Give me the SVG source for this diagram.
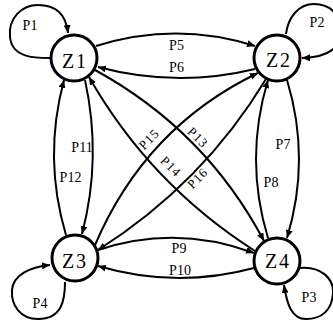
<svg xmlns="http://www.w3.org/2000/svg" width="333" height="327" viewBox="0 0 333 327">
  <style>
    .edge { fill: none; stroke: #000; stroke-width: 2; }
    .arr { marker-end: url(#head); }
    .node circle { fill: #fff; stroke: #000; stroke-width: 3; }
    .node text { font-family: "Liberation Serif", "Times New Roman", serif; font-size: 20px; letter-spacing: 2px; text-anchor: middle; fill: #000; }
    .lbl { font-family: "Liberation Serif", "Times New Roman", serif; font-size: 14px; text-anchor: middle; fill: #000; }
    .dlbl { font-family: "Liberation Serif", "Times New Roman", serif; font-size: 13px; letter-spacing: 1px; text-anchor: middle; fill: #000; }
  </style>
  <defs>
    <marker id="head" markerUnits="userSpaceOnUse" markerWidth="9" markerHeight="7" refX="8" refY="3.5" orient="auto">
      <path d="M0,0 L8,3.5 L0,7 z" fill="#000"/>
    </marker>
  </defs>
  <rect width="333" height="327" fill="#fff"/>

  <g id="connectors">
    <!-- self loops -->
    <path class="edge arr" d="M50,58 C35,58 12,58 10,37 C8,18 22,5 38,5 C55,5 66,14 68,33"/>
    <path class="edge arr" d="M286,34 C288,18 298,4 314,4 C330,4 340,14 340,30 C340,48 330,57 302,58"/>
    <path class="edge arr" d="M300,268 C320,266 334,278 333,293 C332,310 322,319 306,319 C292,319 287,305 284,285"/>
    <path class="edge arr" d="M65,282 C65,300 62,319 38,319 C20,319 11,305 12,290 C13,275 30,267 50,265"/>

    <!-- Z1 / Z2 -->
    <path class="edge arr" d="M96,46 Q176,21 255,46"/>
    <path class="edge arr" d="M255,69 Q177,88 98,67"/>
    <!-- Z3 / Z4 -->
    <path class="edge arr" d="M98,250 Q176,224 254,253"/>
    <path class="edge arr" d="M254,268 Q176,289 98,266"/>
    <!-- Z1 / Z3 -->
    <path class="edge arr" d="M85,80 Q102,158 82,234"/>
    <path class="edge arr" d="M66,235 Q43,158 64,80"/>
    <!-- Z2 / Z4 -->
    <path class="edge arr" d="M287,80 Q311,159 287,238"/>
    <path class="edge arr" d="M268,238 Q244,159 268,80"/>
    <!-- diagonals -->
    <path class="edge arr" d="M95,70 Q205.5,130.5 264,241"/>
    <path class="edge arr" d="M255,251 Q150,184 89,77"/>
    <path class="edge arr" d="M95,245 Q145.5,127 258,73"/>
    <path class="edge arr" d="M266,79 Q203,183.5 98,250"/>

    <!-- labels -->
    <text class="lbl" x="30" y="30">P1</text>
    <text class="lbl" x="317" y="27">P2</text>
    <text class="lbl" x="309" y="302">P3</text>
    <text class="lbl" x="40" y="308">P4</text>
    <text class="lbl" x="176.5" y="50">P5</text>
    <text class="lbl" x="176.5" y="72">P6</text>
    <text class="lbl" x="283" y="149">P7</text>
    <text class="lbl" x="271" y="187">P8</text>
    <text class="lbl" x="179" y="253">P9</text>
    <text class="lbl" x="180" y="275">P10</text>
    <text class="lbl" x="82" y="152">P11</text>
    <text class="lbl" x="70.5" y="182">P12</text>
    <text class="dlbl" transform="translate(198,137.5) rotate(45)" y="4.5">P13</text>
    <text class="dlbl" transform="translate(171,166.5) rotate(45)" y="4.5">P14</text>
    <text class="dlbl" transform="translate(149,139) rotate(-45)" y="4.5">P15</text>
    <text class="dlbl" transform="translate(197.5,178) rotate(-45)" y="4.5">P16</text>
  </g>

  <g id="Z1" class="node"><circle cx="74" cy="58" r="23"/><text x="75" y="68">Z1</text></g>
  <g id="Z2" class="node"><circle cx="277" cy="58" r="23"/><text x="279" y="67">Z2</text></g>
  <g id="Z3" class="node"><circle cx="75" cy="258" r="23"/><text x="75" y="268">Z3</text></g>
  <g id="Z4" class="node"><circle cx="277" cy="261" r="23"/><text x="278" y="268">Z4</text></g>
</svg>
